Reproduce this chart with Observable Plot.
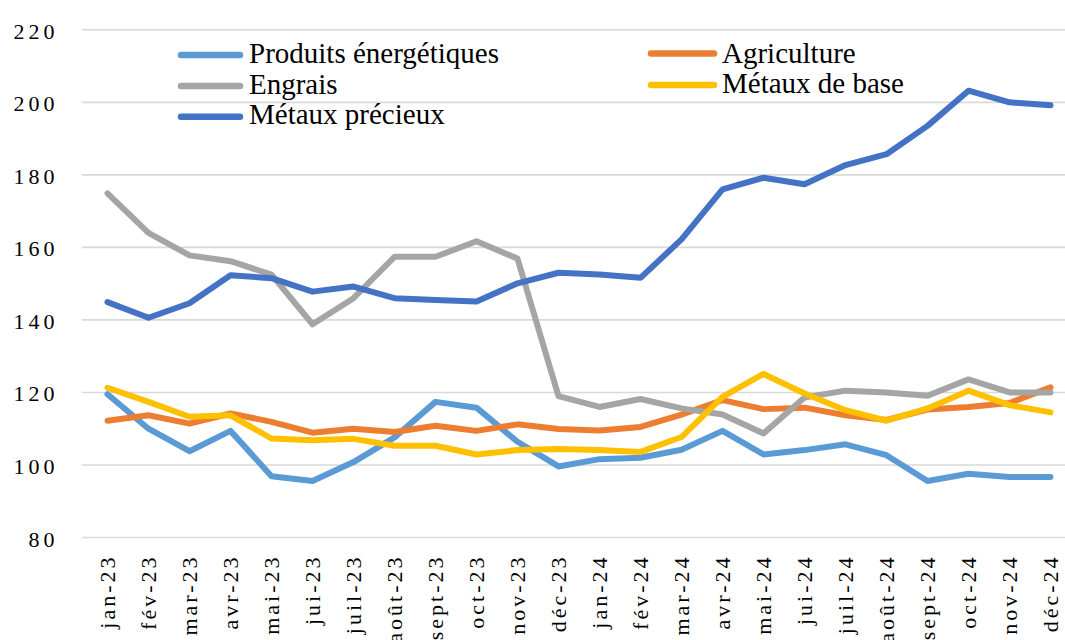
<!DOCTYPE html>
<html>
<head>
<meta charset="utf-8">
<script src="https://cdn.jsdelivr.net/npm/d3@7"></script>
<script src="https://cdn.jsdelivr.net/npm/@observablehq/plot@0.6"></script>
<style>
  html, body { margin: 0; padding: 0; background: #fff; }
  #wrap { position: relative; width: 1065px; height: 640px; overflow: hidden; }
  #legend { position: absolute; left: 0; top: 0; pointer-events: none; }
</style>
</head>
<body>
<div id="wrap"></div>
<script>
const months = ["jan-23","fév-23","mar-23","avr-23","mai-23","jui-23","juil-23","août-23","sept-23","oct-23","nov-23","déc-23",
                "jan-24","fév-24","mar-24","avr-24","mai-24","jui-24","juil-24","août-24","sept-24","oct-24","nov-24","déc-24"];
const seriesNames = ["Produits énergétiques","Agriculture","Engrais","Métaux de base","Métaux précieux"];
const seriesColors = ["#5B9BD5","#ED7D31","#A5A5A5","#FFC000","#4472C4"];
const energie = [119.5,110.0,103.8,109.4,96.9,95.6,100.8,107.6,117.4,115.8,106.4,99.6,101.6,102.0,104.2,109.4,102.9,104.1,105.7,102.7,95.6,97.6,96.7,96.7];
const agriculture = [112.2,113.7,111.4,114.2,111.9,108.9,110.0,109.1,110.8,109.4,111.2,109.9,109.5,110.5,113.9,117.9,115.4,115.8,113.7,112.4,115.3,116.0,117.1,121.4];
const engrais = [174.9,164.0,157.8,156.2,152.5,138.8,146.0,157.4,157.4,161.7,156.9,119.0,116.0,118.2,115.6,113.9,108.7,118.6,120.5,120.0,119.1,123.6,120.0,120.0];
const metauxBase = [121.3,117.4,113.3,113.7,107.3,106.8,107.2,105.3,105.3,102.9,104.1,104.4,104.1,103.6,107.7,118.8,125.1,119.7,115.1,112.2,115.6,120.5,116.5,114.5];
const metauxPrecieux = [144.9,140.6,144.6,152.3,151.5,147.8,149.2,146.0,145.5,145.1,150.1,153.0,152.5,151.6,162.2,176.0,179.2,177.4,182.7,185.7,193.5,203.2,200.0,199.2];
const yTicks = [80,100,120,140,160,180,200,220];

const seriesValues = [energie, agriculture, engrais, metauxBase, metauxPrecieux];
const tidy = seriesNames.map((name, s) => months.map((m, i) => ({month: m, value: seriesValues[s][i], series: name})));

const font = "Liberation Serif, DejaVu Serif, Noto Serif, Times New Roman, serif";

const chart = Plot.plot({
  width: 1065,
  height: 640,
  marginLeft: 82,
  marginRight: 0,
  marginTop: 29.3,
  marginBottom: 103,
  style: {fontFamily: font, fontSize: "22px", color: "#000", background: "#fff", overflow: "visible"},
  x: {type: "point", domain: months, range: [100.7, 1056.7], padding: 0, label: null},
  y: {domain: [80, 220], label: null},
  color: {domain: seriesNames, range: seriesColors},
  marks: [
    Plot.ruleY(yTicks, {stroke: "#D9D9D9", strokeWidth: 1.6}),
    Plot.axisY(yTicks, {tickSize: 0, tickPadding: 24, fontSize: 22, dy: 2, label: null, fontFamily: font}),
    Plot.axisX({tickSize: 0, tickPadding: 17, tickRotate: -90, fontSize: 22, label: null, fontFamily: font}),
    ...tidy.map(d => Plot.line(d, {x: "month", y: "value", stroke: "series", strokeWidth: 6,
                                    strokeLinecap: "round", strokeLinejoin: "round"}))
  ]
});

chart.querySelectorAll('g[aria-label="y-axis tick label"]').forEach(g => g.setAttribute("letter-spacing", "4px"));
chart.querySelectorAll('g[aria-label="x-axis tick label"]').forEach(g => g.setAttribute("letter-spacing", "3px"));

const wrap = document.getElementById("wrap");
wrap.appendChild(chart);

// Legend overlay
const legendItems = [
  {name: seriesNames[0], color: seriesColors[0], x1: 181, x2: 240, ly: 55,   tx: 249, ty: 62.7},
  {name: seriesNames[2], color: seriesColors[2], x1: 181, x2: 240, ly: 86,   tx: 249, ty: 94},
  {name: seriesNames[4], color: seriesColors[4], x1: 181, x2: 240, ly: 116.7, tx: 249, ty: 124.3},
  {name: seriesNames[1], color: seriesColors[1], x1: 651, x2: 714, ly: 53.5, tx: 722, ty: 62.7},
  {name: seriesNames[3], color: seriesColors[3], x1: 651, x2: 714, ly: 85,   tx: 722, ty: 93}
];
const leg = d3.select(wrap).append("svg").attr("id", "legend").attr("width", 1065).attr("height", 640);
const items = leg.selectAll("g").data(legendItems).join("g");
items.append("line")
  .attr("x1", d => d.x1).attr("x2", d => d.x2).attr("y1", d => d.ly).attr("y2", d => d.ly)
  .attr("stroke", d => d.color).attr("stroke-width", 6.5).attr("stroke-linecap", "round");
items.append("text")
  .attr("x", d => d.tx).attr("y", d => d.ty)
  .style("font-family", font).attr("font-size", 29).attr("fill", "#000")
  .text(d => d.name);
</script>
</body>
</html>
